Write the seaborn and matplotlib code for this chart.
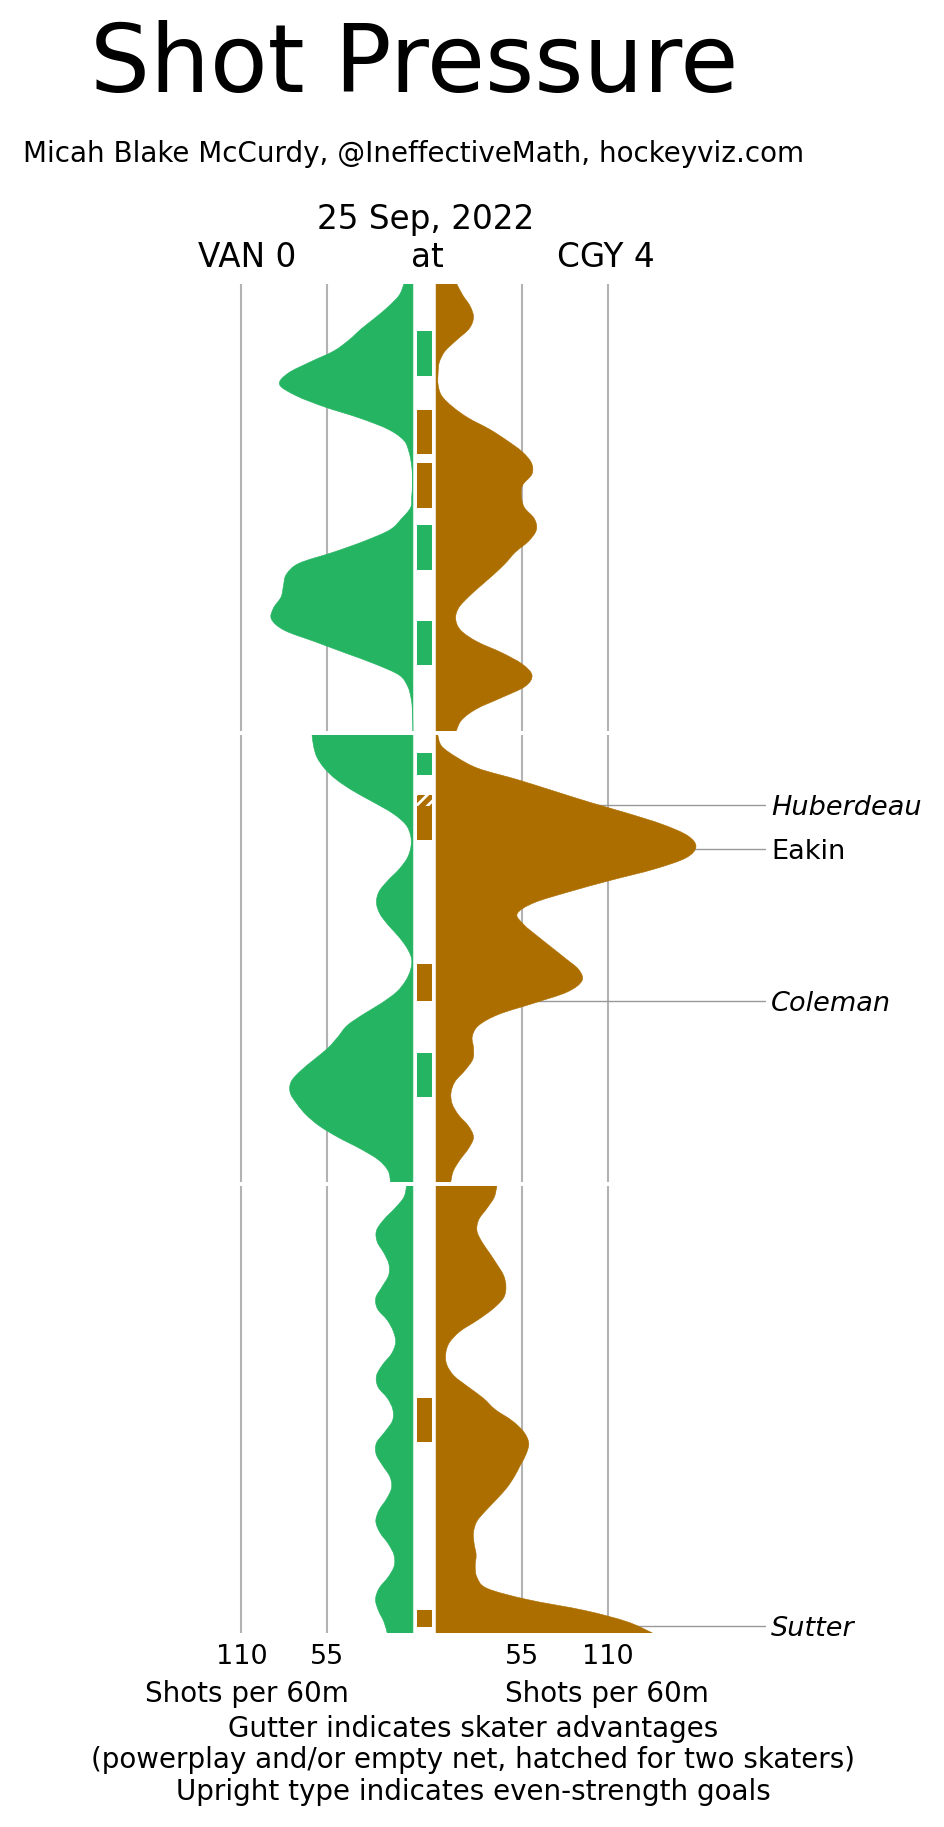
import numpy as np
import matplotlib
matplotlib.use("Agg")
import matplotlib.pyplot as plt
from matplotlib.path import Path
from matplotlib.patches import PathPatch
import seaborn as sns

# ---------------- data ----------------
TIMES = np.arange(0, 20.01, 0.5)  # sample minutes within each period

# VAN (left, green) shots per 60m by period
van_p1 = [5.8, 8.8, 15.6, 24.0, 33.0, 40.9, 50.8, 66.2, 80.2, 85.5, 74.8, 56.6, 34.1, 15.9, 5.8, 2.6,
          1.1, 0.4, 0.3, 0.8, 1.5, 7.3, 14.8, 31.0, 51.0, 73.1, 81.2, 83.0, 84.5, 89.4, 90.7, 82.3,
          63.0, 43.7, 24.4, 8.8, 3.4, 1.3, 0.4, 0.1, 0.0]
van_p2 = [64.7, 63.7, 61.5, 56.6, 49.0, 38.4, 25.5, 13.1, 4.7, 1.5, 1.3, 3.6, 8.8, 15.9, 21.7, 23.4,
          21.2, 15.9, 9.4, 4.1, 0.9, 1.5, 4.7, 10.5, 20.2, 31.9, 42.2, 48.0, 54.4, 63.0, 71.6, 78.0,
          78.7, 74.4, 68.4, 59.8, 48.0, 34.1, 22.3, 15.9, 14.4]
van_p3 = [4.1, 5.8, 11.6, 18.6, 23.4, 22.9, 18.6, 15.4, 15.6, 19.7, 23.8, 22.7, 16.5, 12.6, 11.1, 13.7,
          19.5, 23.4, 22.3, 16.3, 12.9, 13.1, 18.0, 23.4, 23.6, 19.5, 14.8, 13.7, 16.9, 21.7, 23.8, 21.2,
          15.9, 12.2, 12.0, 15.9, 21.7, 24.0, 22.1, 18.6, 16.5]

# CGY (right, orange) shots per 60m by period
cgy_p1 = [13.3, 17.1, 21.9, 24.0, 21.2, 13.3, 5.8, 2.1, 1.3, 1.3, 3.6, 10.7, 20.8, 34.3, 45.4, 55.1,
          61.1, 61.5, 55.5, 54.7, 56.6, 63.0, 64.3, 59.4, 50.8, 44.4, 36.9, 28.7, 20.8, 14.4, 12.6, 15.9,
          26.2, 42.2, 55.1, 61.5, 57.2, 42.2, 26.2, 16.5, 12.9]
cgy_p2 = [1.1, 3.6, 13.3, 27.2, 52.3, 75.2, 98.0, 122.6, 145.1, 161.2, 166.6, 160.1, 139.8, 112.0, 86.0, 63.0,
          52.0, 56.5, 65.0, 74.0, 83.0, 91.5, 93.5, 84.0, 62.6, 40.1, 27.2, 23.2, 24.0, 23.6, 18.6, 12.2,
          9.6, 10.3, 14.4, 20.8, 24.0, 20.8, 15.4, 11.1, 9.4]
cgy_p3 = [39.0, 37.3, 32.6, 27.4, 26.2, 29.4, 34.3, 39.0, 43.3, 44.8, 43.3, 36.4, 26.6, 15.4, 8.6, 6.2,
          6.9, 11.6, 20.8, 30.4, 37.9, 48.7, 56.2, 59.4, 57.7, 54.0, 50.2, 45.4, 39.0, 32.2, 26.2, 24.0,
          24.4, 25.7, 25.1, 26.2, 32.6, 58.3, 95.8, 122.6, 138.7]

# skater advantages: (period, start, end, team, two-skater)
adv_period = [1, 1, 1, 1, 1, 2, 2, 2, 2, 2, 3, 3]
adv_start = [2.10, 5.64, 8.01, 10.78, 15.08, 0.81, 2.68, 3.18, 10.25, 14.23, 9.49, 18.97]
adv_end = [4.12, 7.61, 10.02, 12.80, 17.05, 1.79, 3.18, 4.70, 11.90, 16.20, 11.45, 19.73]
adv_team = ["VAN", "CGY", "CGY", "VAN", "VAN", "VAN", "CGY", "CGY", "CGY", "VAN", "CGY", "CGY"]
adv_two = [False, False, False, False, False, False, True, False, False, False, False, False]

# goals: (period, minute, scorer, even strength)
goal_period = [2, 2, 2, 3]
goal_time = [3.13, 5.10, 11.90, 19.69]
goal_name = ["Huberdeau", "Eakin", "Coleman", "Sutter"]
goal_even = [False, True, False, False]

tick_vals = [110, 55, 55, 110]
tick_labels = ["110", "55", "55", "110"]

GREEN = "#24b462"
ORANGE = "#ad6e00"
GRID = "#b3b3b3"

# ---------------- layout ----------------
W, H = 945, 1827
sns.set_theme(style="white", rc={"axes.facecolor": "white", "figure.facecolor": "white",
                                 "text.color": "black", "xtick.color": "black",
                                 "axes.labelcolor": "black"})
plt.rcParams["font.family"] = ["DejaVu Sans"]
plt.rcParams["hatch.linewidth"] = 2.0

fig = plt.figure(figsize=(W / 100, H / 100), dpi=100)

PX = 1.56          # pixels per shot/60 unit
CENTER = 424.5     # pixel x of gutter centre
BASE = 7.4         # half gutter, data units
XL = (-CENTER / PX, (W - CENTER) / PX)


def smooth_area(ax, xs, ys, base, color):
    """Filled area from the baseline to a smooth curve through the samples."""
    P = np.column_stack([xs, ys])
    n = len(P)
    verts = [(base, ys[0]), (xs[0], ys[0])]
    codes = [Path.MOVETO, Path.LINETO]
    for i in range(n - 1):
        p0 = P[max(i - 1, 0)]
        p1 = P[i]
        p2 = P[i + 1]
        p3 = P[min(i + 2, n - 1)]
        c1 = p1 + (p2 - p0) / 6.0
        c2 = p2 - (p3 - p1) / 6.0
        verts += [tuple(c1), tuple(c2), tuple(p2)]
        codes += [Path.CURVE4] * 3
    verts += [(base, ys[-1]), (base, ys[0])]
    codes += [Path.LINETO, Path.CLOSEPOLY]
    ax.add_patch(PathPatch(Path(verts, codes), facecolor=color, edgecolor=color,
                           lw=0.4, zorder=1))


period_px = [(284, 731), (735, 1182), (1186, 1633)]
van_all = [van_p1, van_p2, van_p3]
cgy_all = [cgy_p1, cgy_p2, cgy_p3]
axes = []
for i, (top, bot) in enumerate(period_px):
    ax = fig.add_axes([0, 1 - bot / H, 1, (bot - top) / H])
    axes.append(ax)
    for s in ax.spines.values():
        s.set_visible(False)
    for v in (55, 110):
        ax.axvline(-(BASE + v), color=GRID, lw=1.5, zorder=0.5)
        ax.axvline(BASE + v, color=GRID, lw=1.5, zorder=0.5)
    van = np.array(van_all[i])
    cgy = np.array(cgy_all[i])
    smooth_area(ax, -(BASE + van), TIMES, -BASE, GREEN)
    smooth_area(ax, BASE + cgy, TIMES, BASE, ORANGE)
    ax.set_xlim(*XL)
    ax.set_ylim(20, 0)
    ax.set_xticks([])
    ax.set_yticks([])

# gutter bars
for p, s, e, team, two in zip(adv_period, adv_start, adv_end, adv_team, adv_two):
    ax = axes[p - 1]
    col = GREEN if team == "VAN" else ORANGE
    if two:
        ax.bar(0, e - s, bottom=s, width=9.6, color=col, edgecolor="white",
               hatch="///", lw=0, zorder=2)
    else:
        ax.bar(0, e - s, bottom=s, width=9.6, color=col, lw=0, zorder=2)

# goal annotations
for p, t, name, even in zip(goal_period, goal_time, goal_name, goal_even):
    ax = axes[p - 1]
    sns.lineplot(x=[BASE, 218.3], y=[t, t], color="#999999", lw=1.0, zorder=0.8,
                 ax=ax, legend=False)
    ax.text(222.1, t, name, fontsize=19.5, va="center_baseline", ha="left",
            style="normal" if even else "italic", color="black")

for ax in axes:
    ax.set_xlim(*XL)
    ax.set_ylim(20, 0)
    ax.set_xlabel("")
    ax.set_ylabel("")

# bottom tick labels
ax3 = axes[2]
ax3.set_xticks([-(BASE + tick_vals[0]), -(BASE + tick_vals[1]), BASE + tick_vals[2], BASE + tick_vals[3]])
ax3.set_xticklabels(tick_labels, fontsize=19.5)
ax3.tick_params(axis="x", length=0, pad=8, colors="black")


def ftext(x, y, s, **kw):
    fig.text(x / W, 1 - y / H, s, va="baseline", color="black", **kw)


ftext(414, 92, "Shot Pressure", fontsize=68, ha="center")
ftext(414, 162, "Micah Blake McCurdy, @IneffectiveMath, hockeyviz.com", fontsize=20, ha="center")
ftext(426, 229, "25 Sep, 2022", fontsize=23.5, ha="center")
ftext(247, 267, "VAN 0", fontsize=23.5, ha="center")
ftext(427, 267, "at", fontsize=23.5, ha="center")
ftext(606, 267, "CGY 4", fontsize=23.5, ha="center")
ftext(247, 1702, "Shots per 60m", fontsize=20, ha="center")
ftext(607, 1702, "Shots per 60m", fontsize=20, ha="center")
ftext(473, 1737, "Gutter indicates skater advantages", fontsize=20, ha="center")
ftext(473, 1768.5, "(powerplay and/or empty net, hatched for two skaters)", fontsize=20, ha="center")
ftext(473, 1800, "Upright type indicates even-strength goals", fontsize=20, ha="center")

fig.savefig("out.png", dpi=100)
